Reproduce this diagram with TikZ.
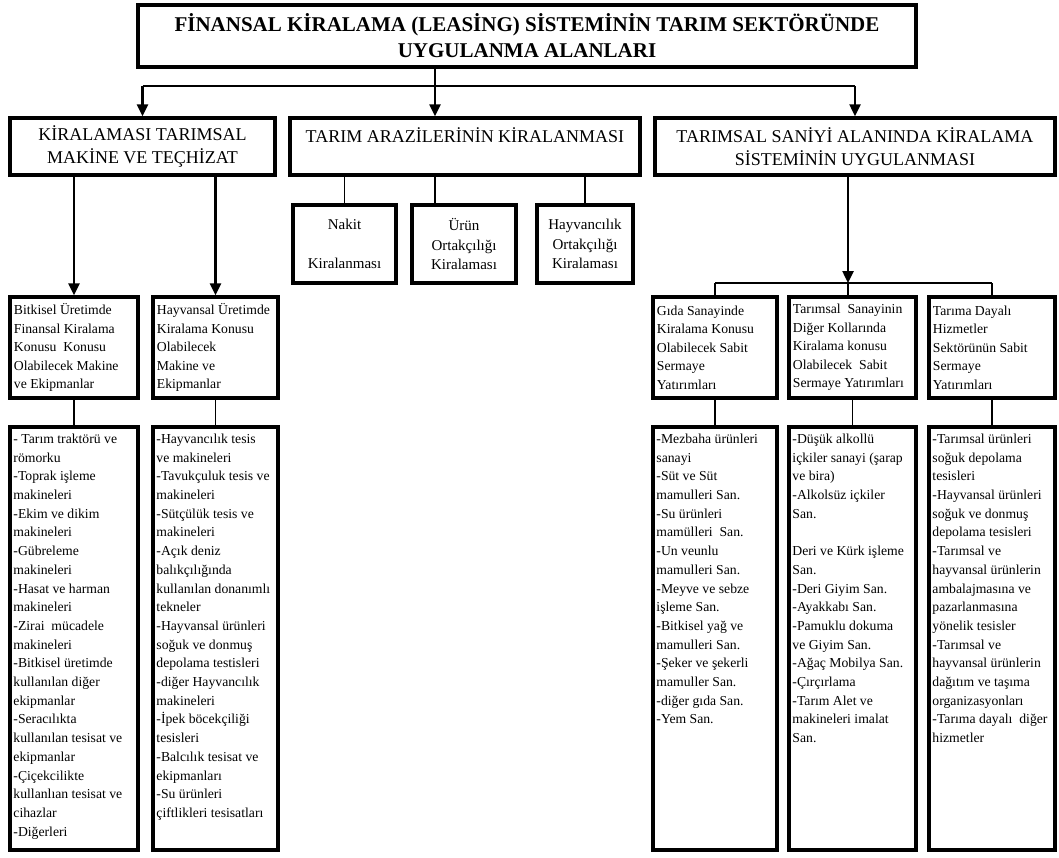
\documentclass[tikz,border=0pt]{standalone}
\usepackage{fontspec}
\setmainfont{Liberation Serif}
\usepackage{xcolor}
\usepackage{tikz}
\usetikzlibrary{arrows.meta}

\begin{document}
\begin{tikzpicture}[x=1pt,y=-1pt,
    box/.style={rectangle,draw,line width=3.5pt,inner sep=0pt},
    titlebox/.style={box,minimum width=778,minimum height=62,font=\fontsize{21}{26}\selectfont\bfseries,align=center},
    headbox/.style={box,minimum height=57,font=\fontsize{18}{23}\selectfont,align=center},
    smallbox/.style={box,line width=4pt,minimum height=78,font=\fontsize{15}{19.5}\selectfont,align=center},
    subbox/.style={box,minimum height=101},
    subtext/.style={anchor=west,inner xsep=5.5pt,font=\fontsize{13.7}{18.5}\selectfont,align=left},
    listbox/.style={box,minimum height=423},
    listtext/.style={anchor=north west,inner xsep=5pt,inner ysep=8.5pt,font=\fontsize{13.7}{18.7}\selectfont,align=left},
    bigarrow/.style={line width=2.5pt,-{Triangle[length=12pt,width=11pt]}},
    link/.style={line width=1.3pt}]
    \useasboundingbox (0,0) rectangle (1059,857);
        \node at (527,36) [titlebox] (title) {FİNANSAL KİRALAMA (LEASİNG) SİSTEMİNİN TARIM SEKTÖRÜNDE\\UYGULANMA ALANLARI};
        \coordinate (split) at (435,86);
        % first level
        \node at (142.5,146.5) [headbox,minimum width=265] (kira) {KİRALAMASI TARIMSAL\\MAKİNE VE TEÇHİZAT};
        \node at (465,146.5) [headbox,minimum width=350] (arazi) {TARIM ARAZİLERİNİN KİRALANMASI\\~};
        \node at (855,146.5) [headbox,minimum width=400] (sanayi) {TARIMSAL SANİYİ ALANINDA KİRALAMA\\SİSTEMİNİN UYGULANMASI};
        \draw (title.south -| split)[bigarrow] -- (arazi.north -| split);
        \draw (kira.north |- split)[link,line width=1.6pt] -- (sanayi.north |- split);
        \draw (kira.north |- split)[bigarrow] -- (kira.north);
        \draw (sanayi.north |- split)[bigarrow] -- (sanayi.north);
        % land leasing
        \node at (344.5,244) [smallbox,minimum width=103] (nakit) {Nakit\\~\\Kiralanması};
        \node at (464,244) [smallbox,minimum width=104] (urun) {Ürün\\Ortakçılığı\\Kiralaması};
        \node at (585,244) [smallbox,minimum width=96] (hayvan) {Hayvancılık\\Ortakçılığı\\Kiralaması};
        \draw (arazi.south -| nakit)[link] -- (nakit.north);
        \draw (arazi.south -| split)[link] -- (urun.north -| split);
        \draw (arazi.south -| hayvan)[link] -- (hayvan.north);
        % machinery
        \node at (74,347.5) [subbox,minimum width=128] (bitki) {};
        \node at (215.5,347.5) [subbox,minimum width=125] (hayvansal) {};
        \node at (bitki.west) [subtext] (bitkitxt) {Bitkisel Üretimde\\Finansal Kiralama\\Konusu~ Konusu\\Olabilecek Makine\\ve Ekipmanlar};
        \node at (hayvansal.west) [subtext] (hayvansaltxt) {Hayvansal Üretimde\\Kiralama Konusu\\Olabilecek\\Makine ve\\Ekipmanlar};
        \draw (kira.south -| bitki)[bigarrow] -- (bitki.north);
        \draw (kira.south -| hayvansal)[bigarrow] -- (hayvansal.north);
        % industry
        \coordinate (join) at (848,283);
        \node at (715,347.5) [subbox,minimum width=124] (gida) {};
        \node at (852.5,347.5) [subbox,minimum width=127] (diger) {};
        \node at (992,347.5) [subbox,minimum width=126] (dayali) {};
        \node at (gida.west) [subtext] (gidatxt) {Gıda Sanayinde\\Kiralama Konusu\\Olabilecek Sabit\\Sermaye\\Yatırımları};
        \node at (diger.west) [subtext] (digertxt) {Tarımsal~ Sanayinin\\Diğer Kollarında\\Kiralama konusu\\Olabilecek~ Sabit\\Sermaye Yatırımları};
        \node at (dayali.west) [subtext] (dayalitxt) {Tarıma Dayalı\\Hizmetler\\Sektörünün Sabit\\Sermaye\\Yatırımları};
        \draw (sanayi.south -| join)[bigarrow] -- (join);
        \draw (gida.north |- join)[link] -- (dayali.north |- join);
        \draw (gida.north |- join)[link] -- (gida.north);
        \draw (join)[link] -- (diger.north -| join);
        \draw (dayali.north |- join)[link] -- (dayali.north);
        % lists
        \node at (74,638.5) [listbox,minimum width=128] (l1) {};
        \node at (215.5,638.5) [listbox,minimum width=125] (l2) {};
        \node at (715,638.5) [listbox,minimum width=124] (l3) {};
        \node at (852.5,638.5) [listbox,minimum width=127] (l4) {};
        \node at (992,638.5) [listbox,minimum width=126] (l5) {};
        \node at (l1.north west) [listtext] (l1txt) {- Tarım traktörü ve\\römorku\\-Toprak işleme\\makineleri\\-Ekim ve dikim\\makineleri\\-Gübreleme\\makineleri\\-Hasat ve harman\\makineleri\\-Zirai~ mücadele\\makineleri\\-Bitkisel üretimde\\kullanılan diğer\\ekipmanlar\\-Seracılıkta\\kullanılan tesisat ve\\ekipmanlar\\-Çiçekcilikte\\kullanlıan tesisat ve\\cihazlar\\-Diğerleri};
        \node at (l2.north west) [listtext] (l2txt) {-Hayvancılık tesis\\ve makineleri\\-Tavukçuluk tesis ve\\makineleri\\-Sütçülük tesis ve\\makineleri\\-Açık deniz\\balıkçılığında\\kullanılan donanımlı\\tekneler\\-Hayvansal ürünleri\\soğuk ve donmuş\\depolama testisleri\\-diğer Hayvancılık\\makineleri\\-İpek böcekçiliği\\tesisleri\\-Balcılık tesisat ve\\ekipmanları\\-Su ürünleri\\çiftlikleri tesisatları};
        \node at (l3.north west) [listtext] (l3txt) {-Mezbaha ürünleri\\sanayi\\-Süt ve Süt\\mamulleri San.\\-Su ürünleri\\mamülleri~ San.\\-Un veunlu\\mamulleri San.\\-Meyve ve sebze\\işleme San.\\-Bitkisel yağ ve\\mamulleri San.\\-Şeker ve şekerli\\mamuller San.\\-diğer gıda San.\\-Yem San.};
        \node at (l4.north west) [listtext] (l4txt) {-Düşük alkollü\\içkiler sanayi (şarap\\ve bira)\\-Alkolsüz içkiler\\San.\\~\\Deri ve Kürk işleme\\San.\\-Deri Giyim San.\\-Ayakkabı San.\\-Pamuklu dokuma\\ve Giyim San.\\-Ağaç Mobilya San.\\-Çırçırlama\\-Tarım Alet ve\\makineleri imalat\\San.};
        \node at (l5.north west) [listtext] (l5txt) {-Tarımsal ürünleri\\soğuk depolama\\tesisleri\\-Hayvansal ürünleri\\soğuk ve donmuş\\depolama tesisleri\\-Tarımsal ve\\hayvansal ürünlerin\\ambalajmasına ve\\pazarlanmasına\\yönelik tesisler\\-Tarımsal ve\\hayvansal ürünlerin\\dağıtım ve taşıma\\organizasyonları\\-Tarıma dayalı~ diğer\\hizmetler};
        \draw (bitki.south)[link] -- (l1.north);
        \draw (hayvansal.south)[link] -- (l2.north);
        \draw (gida.south)[link] -- (l3.north);
        \draw (diger.south)[link] -- (l4.north);
        \draw (dayali.south)[link] -- (l5.north);
    \end{tikzpicture}
\end{document}
